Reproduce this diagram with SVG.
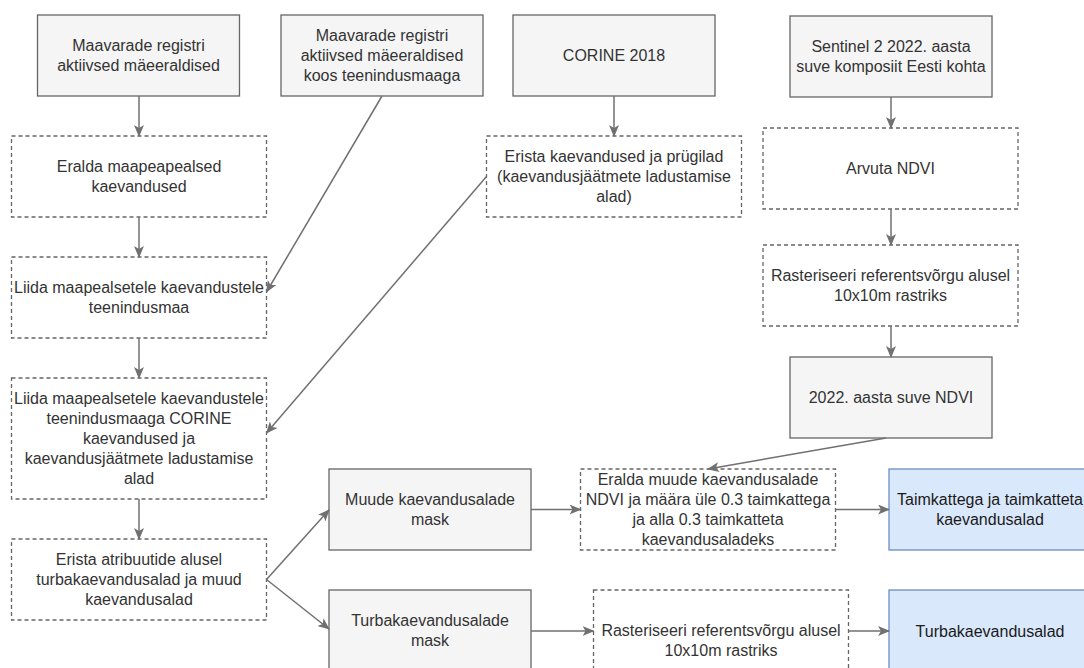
<svg xmlns="http://www.w3.org/2000/svg" width="1084" height="668" viewBox="0 0 1084 668">
  <style>
    .src { fill: #f5f5f5; stroke: #666666; stroke-width: 1.3; }
    .step { fill: #ffffff; stroke: #666666; stroke-width: 1.3; stroke-dasharray: 4 3; }
    .out { fill: #dae8fc; stroke: #6c8ebf; stroke-width: 1.3; }
    text { font-family: "Liberation Sans", Arial, Helvetica, sans-serif; font-size: 16px; fill: #333333; text-anchor: middle; dominant-baseline: central; }
    .out-t { fill: #1a1a1a; }
    .edge { fill: none; stroke: #707070; stroke-width: 1.5; marker-end: url(#arrow); }
  </style>
  <defs>
    <marker id="arrow" viewBox="0 0 12 10" refX="11" refY="5" markerWidth="12" markerHeight="10" markerUnits="userSpaceOnUse" orient="auto">
      <path d="M0,0 L12,5 L0,10 L3,5 Z" fill="#707070"/>
    </marker>
  </defs>
  <rect width="1084" height="668" fill="#ffffff"/>

  <!-- source data -->
  <g id="reg-active">
    <rect class="src" x="37.5" y="15" width="202" height="81"/>
    <text x="138.5" y="45.8">Maavarade registri</text>
    <text x="138.5" y="65.6">aktiivsed mäeeraldised</text>
  </g>
  <g id="reg-service">
    <rect class="src" x="281" y="15" width="202" height="81"/>
    <text x="382" y="35.7">Maavarade registri</text>
    <text x="382" y="55.5">aktiivsed mäeeraldised</text>
    <text x="382" y="75.3">koos teenindusmaaga</text>
  </g>
  <g id="corine">
    <rect class="src" x="513" y="15" width="202" height="81"/>
    <text x="614" y="55.5">CORINE 2018</text>
  </g>
  <g id="sentinel">
    <rect class="src" x="790" y="16" width="202" height="81"/>
    <text x="891" y="46.8">Sentinel 2 2022. aasta</text>
    <text x="891" y="66.6">suve komposiit Eesti kohta</text>
  </g>

  <!-- left column processing -->
  <g id="separate-surface">
    <rect class="step" x="11.5" y="136" width="255" height="81"/>
    <text x="139" y="166.8">Eralda maapeapealsed</text>
    <text x="139" y="186.6">kaevandused</text>
  </g>
  <g id="join-service">
    <rect class="step" x="11.5" y="257" width="255" height="81"/>
    <text x="139" y="287.8">Liida maapealsetele kaevandustele</text>
    <text x="139" y="307.6">teenindusmaa</text>
  </g>
  <g id="join-corine">
    <rect class="step" x="11.5" y="378" width="255" height="121"/>
    <text x="139" y="398.9">Liida maapealsetele kaevandustele</text>
    <text x="139" y="418.7">teenindusmaaga CORINE</text>
    <text x="139" y="438.5">kaevandused ja</text>
    <text x="139" y="458.3">kaevandusjäätmete ladustamise</text>
    <text x="139" y="478.1">alad</text>
  </g>
  <g id="split-attr">
    <rect class="step" x="11.5" y="539" width="255" height="81"/>
    <text x="139" y="559.7">Erista atribuutide alusel</text>
    <text x="139" y="579.5">turbakaevandusalad ja muud</text>
    <text x="139" y="599.3">kaevandusalad</text>
  </g>

  <!-- CORINE processing -->
  <g id="corine-mines">
    <rect class="step" x="486.5" y="136" width="255" height="81"/>
    <text x="614" y="156.7">Erista kaevandused ja prügilad</text>
    <text x="614" y="176.5">(kaevandusjäätmete ladustamise</text>
    <text x="614" y="196.3">alad)</text>
  </g>

  <!-- NDVI processing -->
  <g id="calc-ndvi">
    <rect class="step" x="763" y="128" width="255" height="81"/>
    <text x="890.5" y="168.5">Arvuta NDVI</text>
  </g>
  <g id="rasterize-ndvi">
    <rect class="step" x="763" y="245" width="255" height="81"/>
    <text x="890.5" y="275.8">Rasteriseeri referentsvõrgu alusel</text>
    <text x="890.5" y="295.6">10x10m rastriks</text>
  </g>
  <g id="ndvi-2022">
    <rect class="src" x="790" y="357" width="202" height="81"/>
    <text x="891" y="397.5">2022. aasta suve NDVI</text>
  </g>

  <!-- masks -->
  <g id="mask-other">
    <rect class="src" x="329" y="469" width="202" height="81"/>
    <text x="430" y="499.8">Muude kaevandusalade</text>
    <text x="430" y="519.6">mask</text>
  </g>
  <g id="mask-peat">
    <rect class="src" x="329" y="590" width="202" height="81"/>
    <text x="430" y="620.8">Turbakaevandusalade</text>
    <text x="430" y="640.6">mask</text>
  </g>

  <!-- classification -->
  <g id="classify-ndvi">
    <rect class="step" x="580.5" y="469" width="255" height="81"/>
    <text x="708" y="479.8">Eralda muude kaevandusalade</text>
    <text x="708" y="499.6">NDVI ja määra üle 0.3 taimkattega</text>
    <text x="708" y="519.4">ja alla 0.3 taimkatteta</text>
    <text x="708" y="539.2">kaevandusaladeks</text>
  </g>
  <g id="rasterize-peat">
    <rect class="step" x="593.5" y="590" width="255" height="100"/>
    <text x="721" y="630.7">Rasteriseeri referentsvõrgu alusel</text>
    <text x="721" y="650.5">10x10m rastriks</text>
  </g>

  <!-- results -->
  <g id="result-vegetation">
    <rect class="out" x="889" y="469" width="202" height="81"/>
    <text class="out-t" x="990" y="499.8">Taimkattega ja taimkatteta</text>
    <text class="out-t" x="990" y="519.6">kaevandusalad</text>
  </g>
  <g id="result-peat">
    <rect class="out" x="889" y="590" width="202" height="100"/>
    <text class="out-t" x="990" y="631">Turbakaevandusalad</text>
  </g>

  <!-- connectors -->
  <g id="connectors">
    <path class="edge" d="M139,96 L139,136"/>
    <path class="edge" d="M139,217 L139,257"/>
    <path class="edge" d="M139,338 L139,378"/>
    <path class="edge" d="M139,499 L139,539"/>
    <path class="edge" d="M382,96 L266.5,292"/>
    <path class="edge" d="M486.5,176.5 L266.5,433"/>
    <path class="edge" d="M614,96 L614,136"/>
    <path class="edge" d="M891,97 L891,128"/>
    <path class="edge" d="M891,209 L891,245"/>
    <path class="edge" d="M891,326 L891,357"/>
    <path class="edge" d="M886,438 L708,469"/>
    <path class="edge" d="M266.5,579.5 L329,510"/>
    <path class="edge" d="M266.5,579.5 L329,629"/>
    <path class="edge" d="M531,509.5 L580.5,509.5"/>
    <path class="edge" d="M835.5,509.5 L889,509.5"/>
    <path class="edge" d="M531,631 L593.5,631"/>
    <path class="edge" d="M848.5,631 L889,631"/>
  </g>
</svg>
